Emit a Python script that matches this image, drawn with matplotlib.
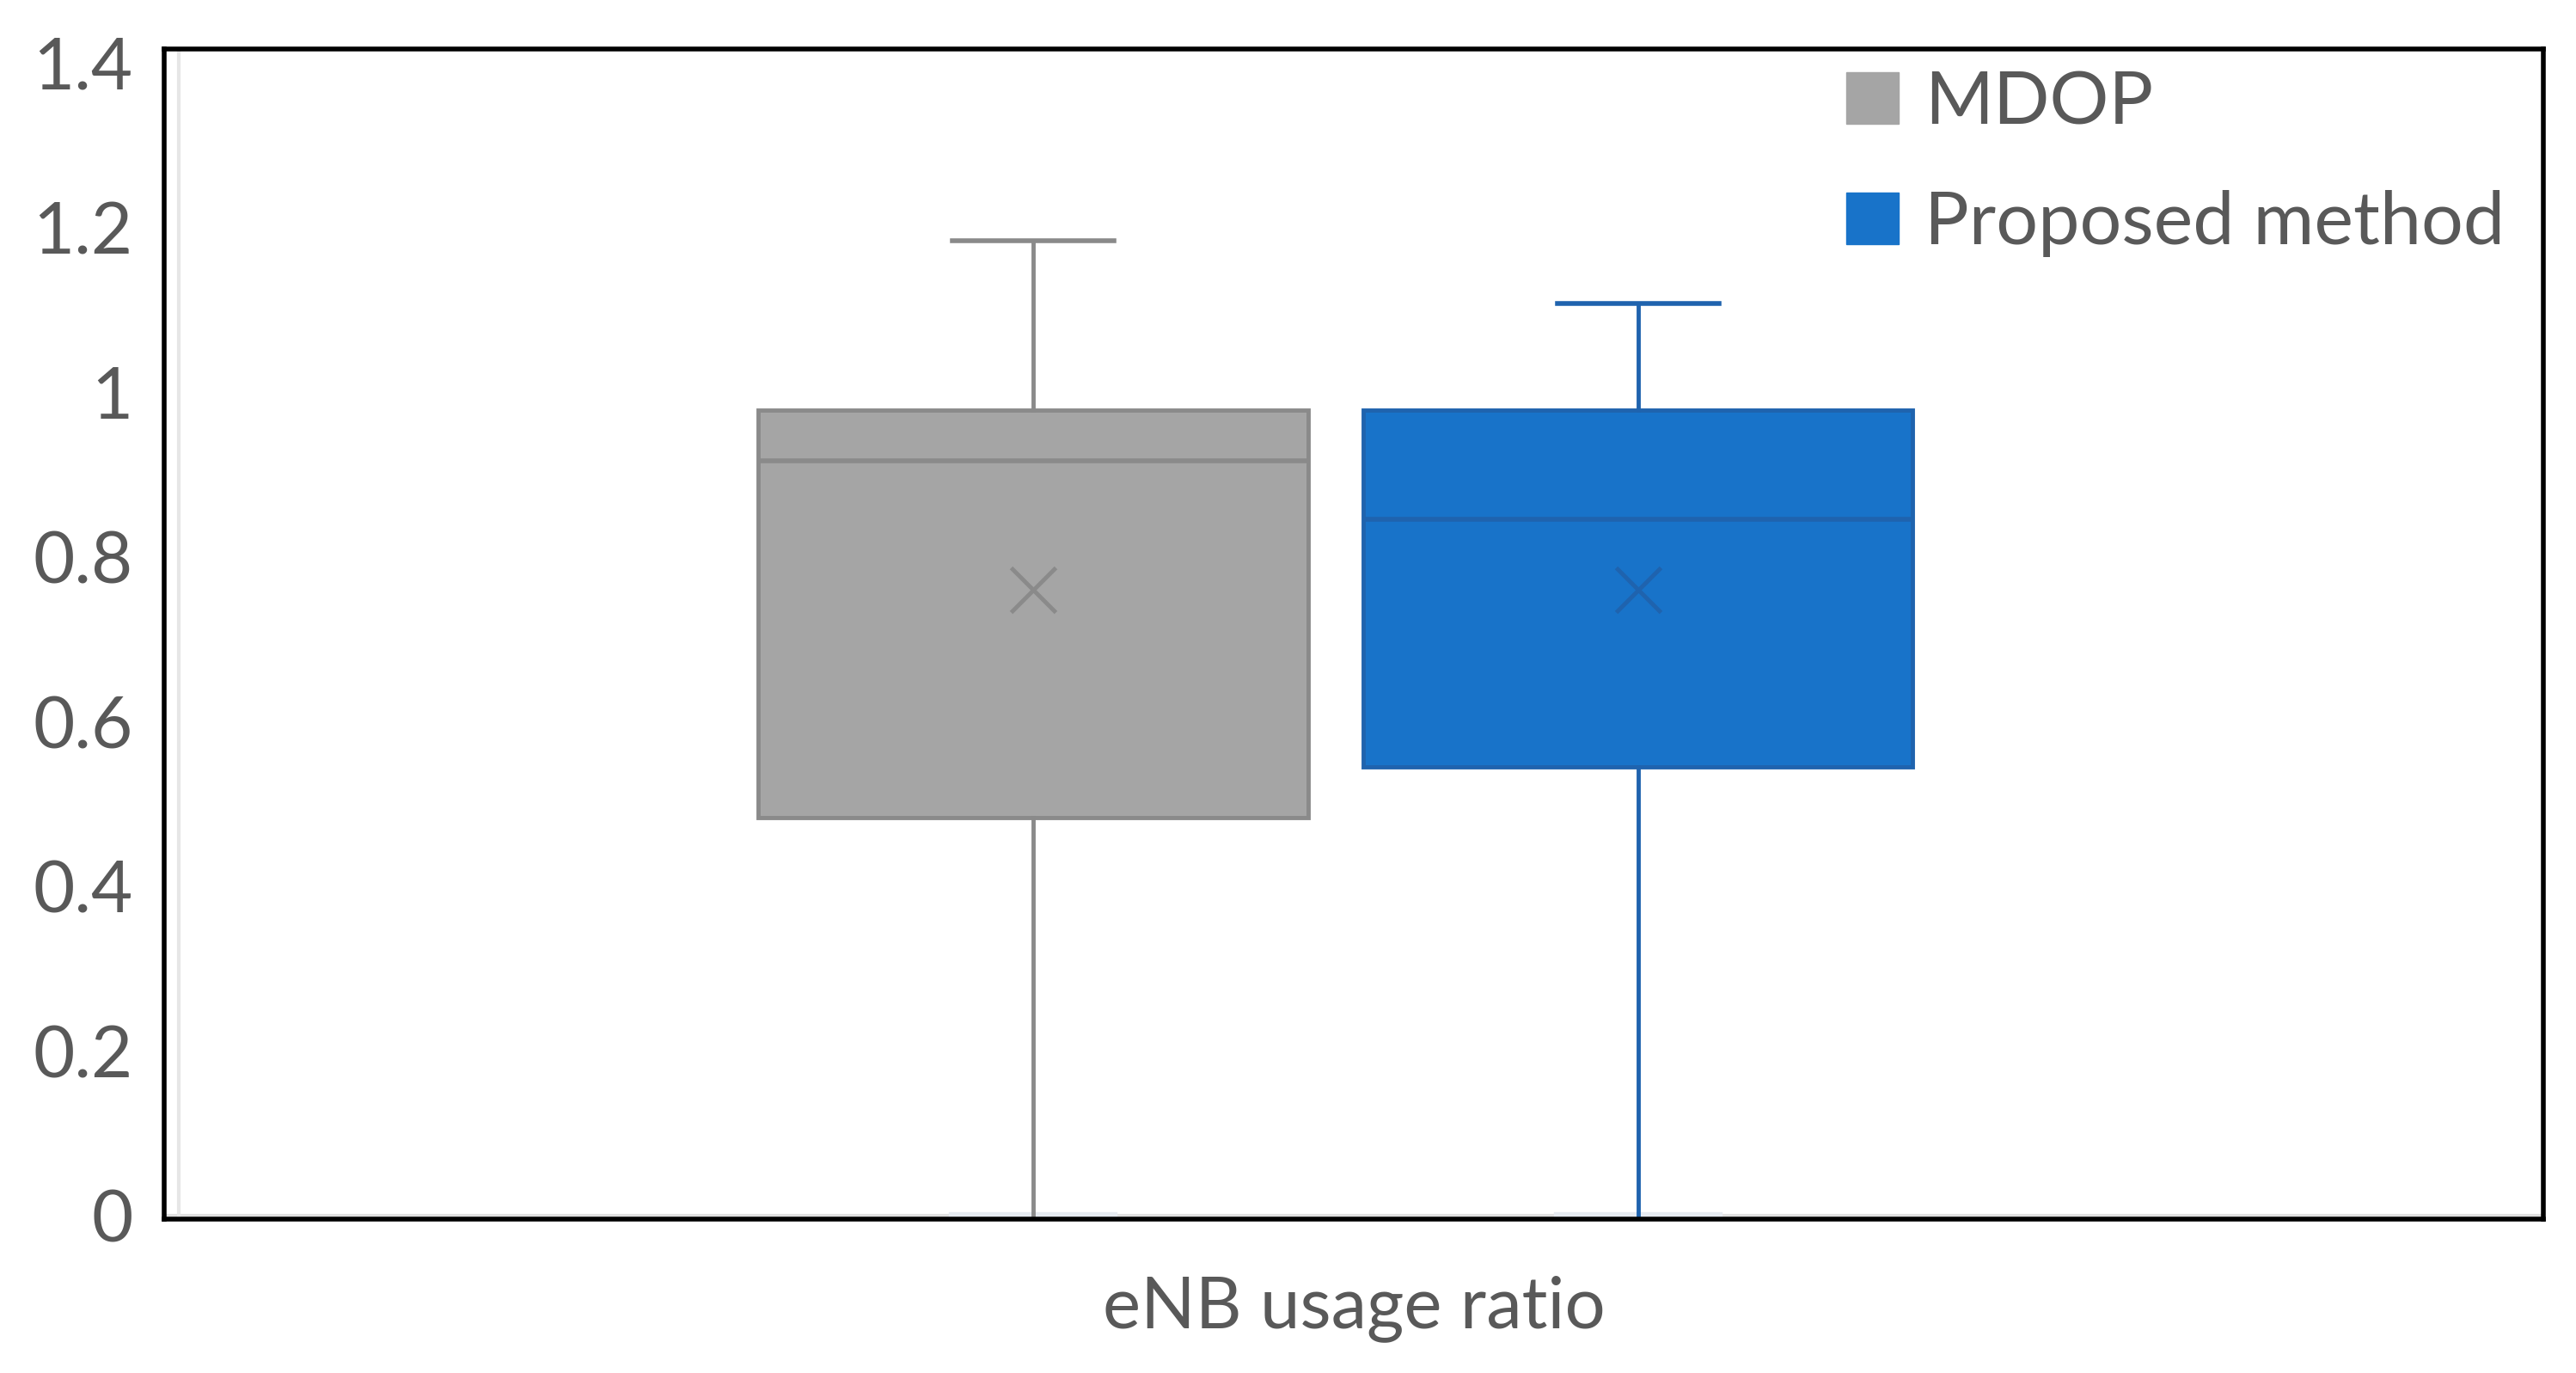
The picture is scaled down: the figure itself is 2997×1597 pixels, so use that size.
import matplotlib.pyplot as plt
from matplotlib.patches import Patch

# box statistics
methods = ['MDOP', 'Proposed method']
q1 = [0.484, 0.545]
medians = [0.917, 0.846]
q3 = [0.979, 0.979]
means = [0.760, 0.760]
whis_lo = [0.0, 0.0]
whis_hi = [1.184, 1.108]
yticks = [0, 0.2, 0.4, 0.6, 0.8, 1, 1.2, 1.4]
ytick_labels = ['0', '0.2', '0.4', '0.6', '0.8', '1', '1.2', '1.4']

face_colors = ['#A5A5A5', '#1873C9']
edge_colors = ['#8A8A8A', '#1F63AE']
text_color = '#595959'
font = ['Lato', 'DejaVu Sans']

fig = plt.figure(figsize=(29.97, 15.97), dpi=100)
ax = fig.add_axes([0.0637, 0.112, 0.9236, 0.8523])

positions = [0.3653, 0.6195]
for i in range(len(methods)):
    stats = [{
        'med': medians[i], 'q1': q1[i], 'q3': q3[i], 'mean': means[i],
        'whislo': whis_lo[i], 'whishi': whis_hi[i], 'fliers': [],
    }]
    ec = edge_colors[i]
    res = ax.bxp(stats, positions=[positions[i]], widths=0.231, patch_artist=True,
                 showmeans=True, capwidths=0.068,
                 boxprops=dict(facecolor=face_colors[i], edgecolor=ec, linewidth=3.5),
                 medianprops=dict(color=ec, linewidth=4),
                 whiskerprops=dict(color=ec, linewidth=3.5),
                 capprops=dict(color=ec, linewidth=4),
                 meanprops=dict(marker='x', markeredgecolor=ec, markersize=38, markeredgewidth=3.5))
    # the low cap sits on the axis and shows only faintly
    res['caps'][0].set_color('#E6EAF0')
    res['caps'][0].set_linewidth(6)
    res['caps'][0].set_zorder(1)

ax.axhline(0, color='#E0E0E0', linewidth=3, zorder=0.5)
ax.axvline(0.006, color='#E6E6E6', linewidth=3, zorder=0.5)

ax.set_xlim(0, 1)
ax.set_ylim(-0.004, 1.417)
ax.set_xticks([])
ax.set_yticks(yticks)
ax.set_yticklabels(ytick_labels, fontsize=60, color=text_color, family=font)
ax.tick_params(axis='y', length=0, pad=26)
ax.set_xlabel('eNB usage ratio', fontsize=60, color=text_color, family=font, labelpad=47)

for s in ax.spines.values():
    s.set_color('black')
    s.set_linewidth(4)

handles = [Patch(facecolor=face_colors[0], edgecolor=face_colors[0]),
           Patch(facecolor=face_colors[1], edgecolor=face_colors[1])]
leg = ax.legend(handles, methods, loc='upper right', frameon=False,
                bbox_to_anchor=(0.99, 0.995),
                prop={'family': font, 'size': 62}, labelcolor=text_color,
                handlelength=0.7, handleheight=0.7, handletextpad=0.35,
                labelspacing=0.72, borderaxespad=0, borderpad=0.2)

fig.savefig('out.png', dpi=100, facecolor='white')
